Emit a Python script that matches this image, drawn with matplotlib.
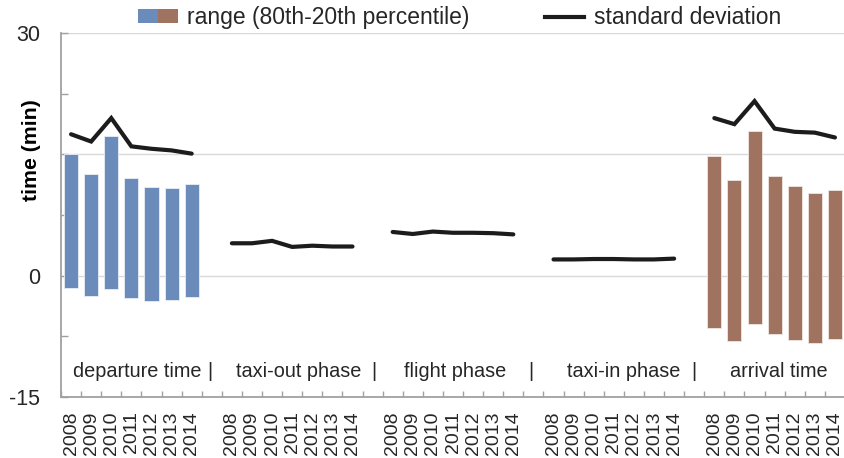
import numpy as np
import matplotlib
matplotlib.use('Agg')
import matplotlib.pyplot as plt
from matplotlib.patches import Patch
from matplotlib.lines import Line2D
from matplotlib.legend_handler import HandlerTuple

plt.rcParams['font.family'] = ['Liberation Sans', 'DejaVu Sans']

# data
years = ['2008', '2009', '2010', '2011', '2012', '2013', '2014']
phases = ['departure time', 'taxi-out phase', 'flight phase', 'taxi-in phase', 'arrival time']

dep_p80 = [15.0, 12.6, 17.3, 12.1, 11.0, 10.8, 11.3]
dep_p20 = [-1.5, -2.5, -1.7, -2.8, -3.2, -3.0, -2.6]
arr_p80 = [14.8, 11.8, 17.9, 12.3, 11.1, 10.2, 10.6]
arr_p20 = [-6.5, -8.1, -6.0, -7.2, -8.0, -8.35, -7.8]

std_dep = [17.5, 16.6, 19.5, 16.0, 15.7, 15.5, 15.1]
std_taxi_out = [4.0, 4.0, 4.3, 3.55, 3.7, 3.6, 3.6]
std_flight = [5.4, 5.15, 5.45, 5.3, 5.3, 5.25, 5.1]
std_taxi_in = [2.0, 2.0, 2.05, 2.05, 2.0, 2.0, 2.1]
std_arr = [19.5, 18.75, 21.6, 18.2, 17.8, 17.7, 17.1]
std_all = [std_dep, std_taxi_out, std_flight, std_taxi_in, std_arr]

blue = '#6b8cba'
brown = '#a07361'
line_col = '#1c1c1c'
axis_col = '#a0a0a0'
text_col = '#262626'

fig = plt.figure(figsize=(8.45, 4.58), dpi=100)
ax = fig.add_axes([0.0722, 0.1338, 0.9278, 0.7935])

n = len(years)
group_x = [np.arange(n) + 8 * g for g in range(len(phases))]

# range bars
dep_lo = np.array(dep_p20)
arr_lo = np.array(arr_p20)
ax.bar(group_x[0], np.array(dep_p80) - dep_lo, bottom=dep_lo, width=0.7,
       color=blue, edgecolor='#e8eef6', linewidth=0.6, zorder=2)
ax.bar(group_x[4], np.array(arr_p80) - arr_lo, bottom=arr_lo, width=0.7,
       color=brown, edgecolor='#f0e6e2', linewidth=0.6, zorder=2)

# std lines
for gx, vals in zip(group_x, std_all):
    ax.plot(gx, vals, color=line_col, lw=3, solid_capstyle='round',
            solid_joinstyle='miter', zorder=3)

ax.set_xlim(-0.5, 38.2)
ax.set_ylim(-15, 30)

# y axis
ax.set_yticks([-15, 0, 15, 30])
ax.set_yticklabels(['-15', '0', '', '30'])
ax.set_yticks([-7.5, 7.5, 22.5], minor=True)
ax.tick_params(axis='y', which='both', direction='in', length=5, width=1,
               color=axis_col, pad=15, labelsize=15.5, labelcolor=text_col)
ax.yaxis.grid(True, which='major', color='#d9d9d9', lw=1, zorder=0)
ax.set_axisbelow(True)

# x axis
xt = np.concatenate(group_x)
ax.set_xticks(xt)
ax.set_xticklabels(years * len(phases), rotation=90)
ax.set_xticks(np.arange(-0.5, 39, 1.0), minor=True)
ax.tick_params(axis='x', which='major', length=0, pad=10.5, labelsize=14,
               labelcolor=text_col)
ax.tick_params(axis='x', which='minor', direction='in', length=4, width=1,
               color=axis_col)

for s in ['top', 'right']:
    ax.spines[s].set_visible(False)
for s in ['left', 'bottom']:
    ax.spines[s].set_color(axis_col)
    ax.spines[s].set_linewidth(1.3)

# phase labels inside the plot
label_x = [3.29, 11.3, 19.1, 27.5, 35.2]
for lx, name in zip(label_x, phases):
    ax.text(lx, -12.5, name, ha='center', va='baseline', fontsize=14.3,
            color=text_col)
for sx in [6.89, 15.08, 22.85, 31.0]:
    ax.text(sx, -12.5, '|', ha='center', va='baseline', fontsize=14.3,
            color=text_col)

fig.text(31.5 / 845, 1 - 150 / 458, 'time (min)', rotation=90, ha='center',
         va='center', fontsize=15.3, fontweight='bold')

# legend
h_range = (Patch(facecolor=blue), Patch(facecolor=brown))
h_std = Line2D([], [], color=line_col, lw=3)
fig.legend([h_range, h_std], ['range (80th-20th percentile)', 'standard deviation'],
           handler_map={tuple: HandlerTuple(ndivide=None, pad=0)},
           loc='center', bbox_to_anchor=(0.544, 0.961), ncol=2, frameon=False,
           fontsize=16.5, handlelength=1.72, handleheight=0.57,
           handletextpad=0.4, columnspacing=3.3, borderaxespad=0,
           labelcolor=text_col)

fig.savefig('out.png', dpi=100)
